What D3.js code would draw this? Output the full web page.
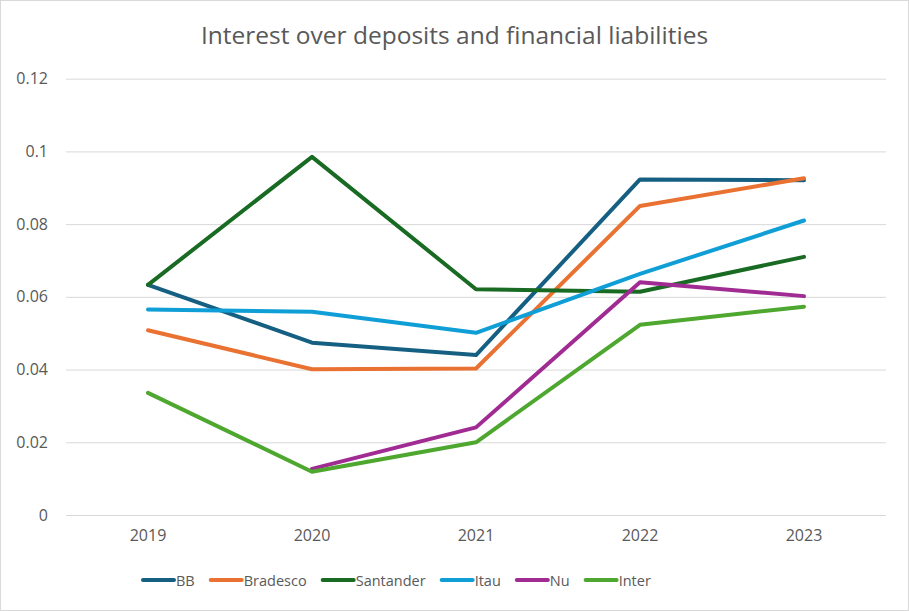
<!DOCTYPE html>
<html><head><meta charset="utf-8">
<script src="https://cdn.jsdelivr.net/npm/d3@7"></script>
<style>body{margin:0;background:#fff;} svg{display:block;}</style>
</head><body>
<svg id="chart" width="909" height="611"></svg>
<script>
const years = ["2019","2020","2021","2022","2023"];
const seriesNames = ["BB","Bradesco","Santander","Itau","Nu","Inter"];
const bb =        [0.0633, 0.0474, 0.0440, 0.0923, 0.0921];
const bradesco =  [0.0508, 0.0401, 0.0403, 0.0850, 0.0926];
const santander = [0.0633, 0.0985, 0.0621, 0.0614, 0.0710];
const itau =      [0.0565, 0.0559, 0.0501, 0.0663, 0.0810];
const nu =        [null,   0.0127, 0.0241, 0.0640, 0.0602];
const inter =     [0.0336, 0.0119, 0.0200, 0.0523, 0.0573];
const yTicks = [0, 0.02, 0.04, 0.06, 0.08, 0.1, 0.12];
const colors = ["#156082","#E97132","#196B24","#0F9ED5","#A02B93","#4EA72E"];
const title = "Interest over deposits and financial liabilities";

const values = [bb, bradesco, santander, itau, nu, inter];
const svg = d3.select("#chart");
const W = 909, H = 611;
const font = "'Open Sans', 'Noto Sans', sans-serif";
const textColor = "#595959";

svg.append("rect").attr("x",0.5).attr("y",0.5).attr("width",W-1).attr("height",H-1)
  .attr("fill","#fff").attr("stroke","#d9d9d9");

const m = {left:66, right:886, top:78.7, bottom:515};
const x = d3.scaleBand().domain(years).range([m.left, m.right]);
const y = d3.scaleLinear().domain([0,0.12]).range([m.bottom, m.top]);

svg.append("text").attr("x", 454.5).attr("y", 44).attr("text-anchor","middle")
  .attr("font-family", font).attr("font-size", 24.5).attr("fill", textColor).text(title);

const yAxis = d3.axisLeft(y).tickValues(yTicks).tickSize(-(m.right-m.left)).tickPadding(18)
  .tickFormat(d => d === 0 ? "0" : String(+d.toFixed(2)));
const gy = svg.append("g").attr("transform", `translate(${m.left},0)`).call(yAxis);
gy.select(".domain").remove();
gy.selectAll("line").attr("stroke","#d9d9d9").attr("stroke-width",1);
gy.selectAll("text").attr("font-family", font).attr("font-size", 16).attr("fill", textColor);

const xAxis = d3.axisBottom(x).tickSize(0).tickPadding(15);
const gx = svg.append("g").attr("transform", `translate(0,${m.bottom})`).call(xAxis);
gx.select(".domain").remove();
gx.selectAll("text").attr("font-family", font).attr("font-size", 16).attr("fill", textColor);

const line = d3.line()
  .defined(d => d.v !== null)
  .x(d => x(d.year) + x.bandwidth()/2)
  .y(d => y(d.v));

seriesNames.forEach((name, i) => {
  const data = years.map((yr, j) => ({year: yr, v: values[i][j]}));
  svg.append("path").datum(data).attr("d", line)
    .attr("fill","none").attr("stroke", colors[i]).attr("stroke-width", 4)
    .attr("stroke-linejoin","round").attr("stroke-linecap","round");
});

// legend
const lg = svg.append("g").attr("transform", "translate(141, 580)");
let lx = 0;
seriesNames.forEach((name, i) => {
  const g = lg.append("g");
  g.append("line").attr("x1", lx+2).attr("x2", lx+33).attr("y1",0).attr("y2",0)
    .attr("stroke", colors[i]).attr("stroke-width",4).attr("stroke-linecap","round");
  const t = g.append("text").attr("x", lx+35).attr("y", 5.5).attr("font-family", font)
    .attr("font-size", 14.5).attr("fill", textColor).text(name);
  const w = t.node().getComputedTextLength();
  lx += 35 + w + 14;
});
</script>
</body></html>
